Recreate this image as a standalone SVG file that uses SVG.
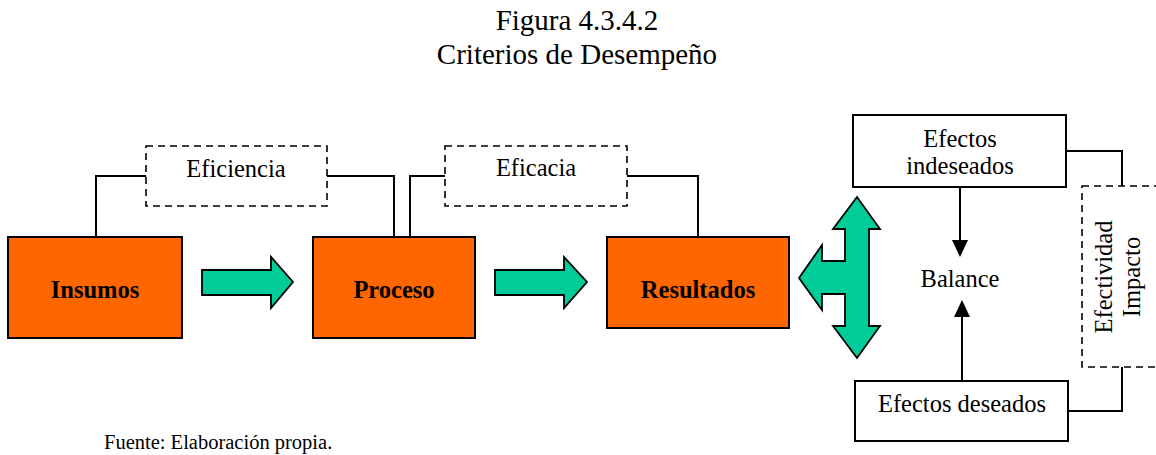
<svg xmlns="http://www.w3.org/2000/svg" width="1156" height="455" viewBox="0 0 1156 455">
<defs>
<style>
text{font-family:"Liberation Serif","Times New Roman",serif;fill:#000}
.t{font-size:24.5px;text-anchor:middle}
.h{font-size:29px;text-anchor:middle}
.b{font-size:24.5px;font-weight:bold;text-anchor:middle}
.box{fill:#FF6600;stroke:#000;stroke-width:2}
.wbox{fill:#fff;stroke:#000;stroke-width:2}
.dash{fill:#fff;stroke:#000;stroke-width:1.6;stroke-dasharray:7,5}
.ln{fill:none;stroke:#000;stroke-width:2}
.ga{fill:#00CC99;stroke:#000;stroke-width:1.8;stroke-linejoin:miter}
</style>
</defs>
<rect width="1156" height="455" fill="#fff"/>
<g id="title">
<text class="h" x="577" y="30">Figura 4.3.4.2</text>
<text class="h" x="577" y="64">Criterios de Desempeño</text>
</g>
<g id="connectors">
<polyline class="ln" points="96,237 96,176 146,176"/>
<polyline class="ln" points="327,176 394,176 394,237"/>
<polyline class="ln" points="410,237 410,176 445,176"/>
<polyline class="ln" points="627,176 698,176 698,237"/>
<polyline class="ln" points="1066,151 1122,151 1122,186"/>
<polyline class="ln" points="1068,411 1122,411 1122,367"/>
<line class="ln" x1="960" y1="187" x2="960" y2="242"/>
<polygon points="952,240 968,240 960,257" fill="#000"/>
<line class="ln" x1="962" y1="381" x2="962" y2="315"/>
<polygon points="954,317 970,317 962,300" fill="#000"/>
<polygon class="ga" points="202,270 271,270 271,257 293,282 271,308 271,295 202,295"/>
<polygon class="ga" points="495,270 564,270 564,257 587,282 564,308 564,295 495,295"/>
<polygon class="ga" points="857,197 880,229 869,229 869,326 880,326 857,358 833,326 845,326 845,294 822,294 822,310 799,278 822,245 822,261 845,261 845,229 833,229"/>
</g>
<g id="eficiencia">
<rect class="dash" x="146" y="146" width="181" height="60"/>
<text class="t" x="236" y="177">Eficiencia</text>
</g>
<g id="eficacia">
<rect class="dash" x="445" y="146" width="182" height="60"/>
<text class="t" x="536" y="176">Eficacia</text>
</g>
<g id="insumos">
<rect class="box" x="8" y="237" width="174" height="101"/>
<text class="b" x="95" y="298">Insumos</text>
</g>
<g id="proceso">
<rect class="box" x="313" y="237" width="162" height="101"/>
<text class="b" x="394" y="298">Proceso</text>
</g>
<g id="resultados">
<rect class="box" x="607" y="237" width="182" height="91"/>
<text class="b" x="698" y="298">Resultados</text>
</g>
<g id="efectos-indeseados">
<rect class="wbox" x="853" y="115" width="213" height="72"/>
<text class="t" x="960" y="147">Efectos</text>
<text class="t" x="960" y="174">indeseados</text>
</g>
<g id="balance">
<text class="t" x="960" y="287">Balance</text>
</g>
<g id="efectos-deseados">
<rect class="wbox" x="855" y="381" width="213" height="60"/>
<text class="t" x="962" y="412">Efectos deseados</text>
</g>
<g id="efectividad">
<rect class="dash" x="1082" y="186" width="90" height="181"/>
<text class="t" transform="rotate(-90 1112 277)" x="1112" y="277">Efectividad</text>
<text class="t" transform="rotate(-90 1140 277)" x="1140" y="277">Impacto</text>
</g>
<g id="fuente">
<text x="104" y="449" style="font-size:20.5px">Fuente: Elaboración propia.</text>
</g>
</svg>
